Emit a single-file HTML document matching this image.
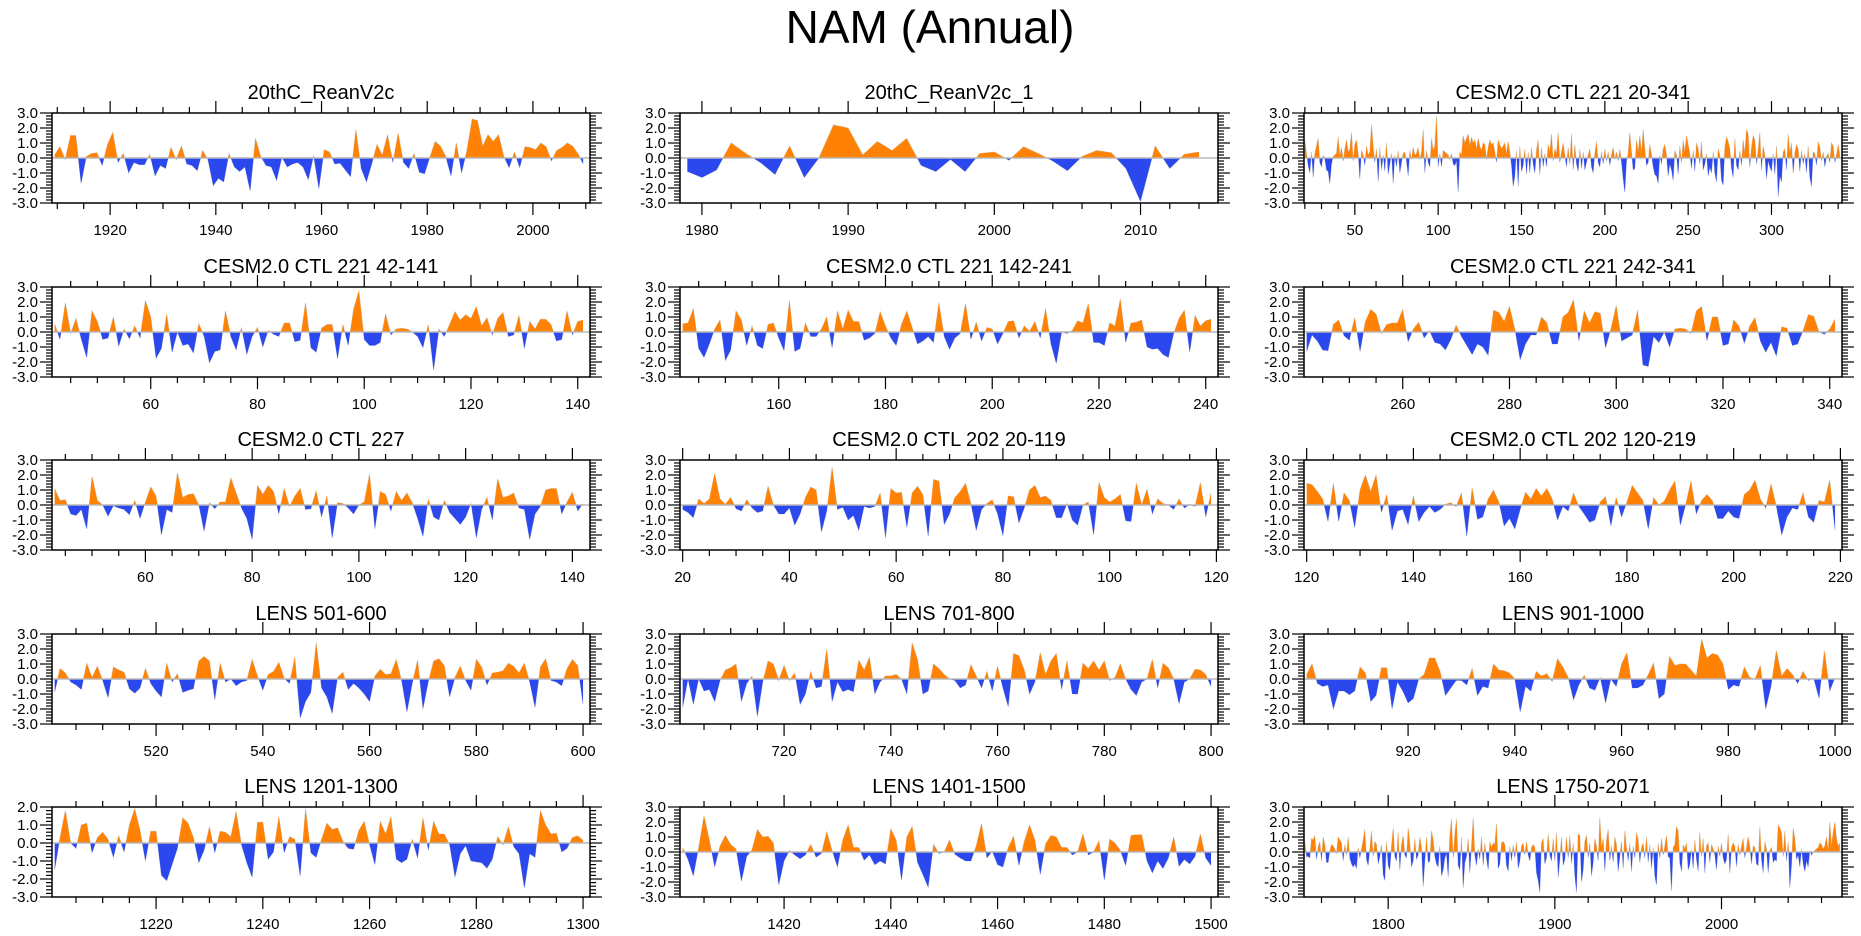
<!DOCTYPE html>
<html><head><meta charset="utf-8"><title>NAM (Annual)</title>
<style>
html,body{margin:0;padding:0;background:#fff;}
svg{display:block;font-family:"Liberation Sans",Arial,sans-serif;}
</style></head>
<body>
<svg id="chart" width="1861" height="936" viewBox="0 0 1861 936" xmlns="http://www.w3.org/2000/svg">
<rect x="0" y="0" width="1861" height="936" fill="#fff"/>
<text x="930" y="43" font-size="46" text-anchor="middle" fill="#000">NAM (Annual)</text>
</svg>
<script>
const titles = ["20thC_ReanV2c","20thC_ReanV2c_1","CESM2.0 CTL 221 20-341","CESM2.0 CTL 221 42-141","CESM2.0 CTL 221 142-241","CESM2.0 CTL 221 242-341","CESM2.0 CTL 227","CESM2.0 CTL 202 20-119","CESM2.0 CTL 202 120-219","LENS 501-600","LENS 701-800","LENS 901-1000","LENS 1201-1300","LENS 1401-1500","LENS 1750-2071"];
const firstYears = [1909.5,1979,20,42,142,242,43,20,120,501,701,901,1201,1401,1750];
const majorSteps = [20,10,50,20,20,20,20,20,20,20,20,20,20,20,100];
const minorSteps = [5,2,10,5,5,5,5,5,5,5,5,5,5,5,20];
const yMaxs = [3,3,3,3,3,3,3,3,3,3,3,3,2,3,3];
const yMins = [-3,-3,-3,-3,-3,-3,-3,-3,-3,-3,-3,-3,-3,-3,-3];

const s20c = [0.2,0.75,-0.1,1.5,1.5,-1.7,0.1,0.3,0.35,-0.5,
0.9,1.7,-0.3,0.3,-1.0,-0.3,-0.45,-0.45,0.25,-1.2,
-0.5,-0.7,0.7,-0.1,0.8,-0.4,-0.5,-0.85,0.5,-0.1,
-1.85,-1.35,-1.6,0.3,-0.6,-0.9,-0.6,-2.2,1.3,0.1,
-0.5,-0.6,-1.5,0.05,-0.6,-0.4,-0.3,-0.6,-1.45,0.15,
-2.05,0.55,0.4,-0.4,-0.35,-0.8,-1.25,1.9,-0.7,-1.6,
-0.4,0.9,0.2,1.55,-0.3,1.65,-0.3,-0.7,0.3,-0.95,
-1.05,0.05,1.1,0.8,0.1,-1.2,1.0,-1.0,0.5,2.6,
2.5,0.8,1.55,1.1,1.55,0.1,-0.65,0.4,-0.65,0.75,
0.7,0.55,1.0,0.75,-0.2,0.5,0.7,1.0,0.8,0.3,-0.4];

const s20c1 = [-0.9,-1.3,-0.8,1.0,0.3,-0.3,-1.1,0.8,-1.3,0.0,2.2,2.0,0.2,1.1,0.5,1.3,-0.5,-0.9,-0.1,-0.9,0.3,0.4,-0.15,0.75,0.3,-0.2,-0.85,0.1,0.5,0.35,-0.7,-2.9,0.8,-0.7,0.25,0.4];

const sCtl221full = [1.2,0.3,-0.5,-1.0,0.4,-1.3,0.3,0.8,1.3,-0.3,-0.6,0.2,-0.1,-0.8,-0.9,-1.7,-0.4,0.1,0.2,0.3,
1.4,0.1,0.7,-0.2,0.6,1.2,0.4,0.6,1.7,-0.2,0.9,1.2,0.3,-1.4,0.5,0.2,-0.5,0.8,0.2,0.4,
2.2,0.8,-0.3,0.6,-1.6,0.7,-0.8,0.2,-0.9,1.0,-1.1,-0.4,0.3,-1.7,0.2,-0.6,0.5,-1.0,-0.3,0.3,
0.4,-0.2,-1.2,0.5,-0.1,0.7,0.2,0.3,0.7,-0.1,0.4,1.9,-1.0,0.5,-0.3,-0.6,1.3,0.5,0.8,2.8,
-0.6,0.3,-0.6,0.5,0.4,0.3,0.2,-0.1,0.3,-0.4,-0.5,-0.2,-2.3,0.4,0.2,1.5,1.0,1.3,1.6,0.8,
1.4,1.0,1.2,0.6,1.3,0.8,0.5,1.0,0.9,-0.1,0.7,1.2,0.9,1.0,0.4,-0.3,1.2,0.9,0.6,0.8,
1.0,0.3,1.1,0.4,-0.5,-1.9,-1.2,0.5,-1.9,0.8,-0.9,-0.5,0.6,-1.1,0.4,-1.0,0.7,-0.4,-1.0,0.5,
1.2,-1.1,0.7,-0.6,0.3,-0.6,0.9,0.4,1.6,-0.2,0.6,0.3,1.7,-0.3,0.4,1.0,0.2,-0.6,0.7,-0.4,
1.6,-0.8,0.9,-0.4,-0.9,0.6,-0.7,0.4,-0.8,-0.3,0.2,0.6,-0.6,-1.0,0.3,1.1,-0.3,-0.6,0.4,-0.4,
0.6,-0.2,0.4,-0.5,0.2,0.7,-0.1,0.4,-0.2,0.6,-0.3,-1.4,-2.3,-0.2,0.3,1.7,0.4,-0.8,-0.7,1.2,
0.4,1.5,0.3,1.9,0.6,-0.5,-0.3,0.9,0.2,-0.6,-1.1,-1.2,-1.7,0.2,-0.4,0.6,0.9,0.2,-1.2,-0.4,
-0.8,-1.5,0.5,0.2,-1.1,0.8,-0.3,1.2,0.4,1.5,0.9,0.3,-0.7,0.5,-0.9,1.0,0.6,-0.4,1.1,-0.8,
-0.4,0.3,-1.2,-0.6,-1.0,0.4,-1.0,-1.6,0.6,0.2,-1.5,-1.8,0.7,1.4,1.1,0.6,-0.7,-1.3,1.3,-0.5,
-0.8,0.5,-0.5,1.2,0.3,1.9,1.6,-0.6,0.7,1.5,1.2,-0.4,0.5,1.7,-0.8,0.8,0.2,-1.4,-0.2,-0.6,
-0.9,0.3,-1.1,0.8,-2.6,-1.2,-1.6,0.4,0.6,-0.8,1.6,0.3,1.0,-1.0,0.3,0.9,0.6,-0.9,0.5,-0.4,
0.3,-1.0,0.8,-1.3,-1.9,0.4,0.3,-0.5,1.1,0.7,-0.2,0.4,-0.6,0.1,0.3,-0.3,1.0,0.8,-0.3,0.2,0.9,0.2];

const sCtl221a = [0.55,-0.5,1.95,-0.1,0.9,-0.5,-1.7,1.4,0.7,-0.5,-0.4,1.0,-0.95,0.2,-0.45,0.4,-0.4,2.1,1.0,-1.75,
-1.1,1.2,-1.35,0.0,-0.9,-0.8,-1.4,0.55,-0.3,-2.05,-1.3,-1.2,1.4,-0.3,-1.2,0.3,-1.5,-0.3,0.3,-1.0,
0.1,-0.15,-0.3,0.6,0.6,-0.65,-0.55,1.95,-1.05,-1.35,0.25,0.5,0.5,-1.8,0.5,-0.9,1.5,2.75,-0.5,-0.9,
-0.9,-0.7,1.2,-0.2,0.2,0.25,0.2,0.0,-0.3,-1.05,0.5,-2.55,0.2,-0.3,0.5,1.35,0.8,1.15,0.9,1.7,
0.4,0.95,-0.2,0.9,1.3,-0.3,-0.2,1.1,-1.1,0.7,0.2,0.85,0.85,0.5,-0.6,-0.5,1.4,-0.2,0.7,0.8];

const sCtl221b = [0.55,0.6,1.55,-1.1,-1.7,-0.8,0.2,0.8,-1.9,-1.2,1.4,0.8,-0.9,0.4,-0.9,-1.1,0.5,0.6,-0.4,-1.25,
2.1,-1.3,-1.1,0.6,-0.3,-0.3,0.2,1.0,-1.05,1.4,0.2,1.45,0.7,0.7,-0.55,-0.4,-0.1,1.35,0.4,-0.4,
-0.9,0.5,1.4,0.3,-0.8,-0.6,-0.3,-0.7,1.95,-0.3,-1.15,-0.4,-0.1,1.9,-0.5,0.65,-0.6,0.3,0.2,-0.8,
-0.1,0.7,0.75,-0.4,0.4,0.05,0.7,-0.4,1.55,-0.8,-2.1,0.0,-0.1,0.1,0.75,0.6,1.9,-0.7,-0.7,-0.9,
0.6,0.4,2.2,-0.7,0.6,0.65,0.8,-1.0,-1.15,-1.1,-1.5,-1.7,-0.1,0.9,1.45,-1.35,1.1,0.4,0.75,0.85];

const sCtl221c = [-1.3,-0.2,-0.6,-1.2,-1.25,0.5,0.8,-0.25,-0.55,0.95,-1.3,0.7,1.5,1.2,-0.1,0.5,0.6,0.6,1.5,-0.65,
0.2,0.65,-0.4,0.1,-0.7,-0.8,-1.2,-0.5,0.45,-0.3,-0.9,-1.5,-0.8,-1.0,-1.55,1.45,1.3,0.7,1.7,0.2,
-1.85,-0.8,-0.2,-0.2,1.0,0.6,-0.8,-0.8,1.0,1.3,2.15,-0.6,1.4,0.6,1.35,1.25,-1.05,0.2,1.75,-0.6,
-0.4,-0.2,1.45,-2.2,-2.3,-0.3,-0.7,0.0,-1.0,0.2,0.25,0.2,-0.1,1.4,1.7,-0.6,1.0,1.0,-0.9,-0.8,
0.8,0.4,-0.75,0.4,0.95,-0.6,-1.35,-0.7,-1.6,0.35,0.25,-0.9,-0.8,0.1,1.15,1.05,0.0,-0.15,0.2,0.85];

const sCtl227 = [1.1,0.3,0.35,-0.6,-0.7,-0.3,-1.6,1.9,0.3,0.0,-0.75,-0.05,-0.2,-0.3,-0.65,0.3,-0.9,0.2,1.2,0.6,
-2.0,-0.3,-0.5,2.15,0.5,0.7,0.75,0.0,-1.75,0.15,-0.25,0.2,0.2,1.8,0.8,-0.2,-0.9,-2.3,1.3,0.7,
1.3,0.9,-0.6,1.1,-0.1,0.6,1.1,-0.3,-0.25,0.95,-0.8,0.6,-2.2,0.15,0.1,-0.2,-0.6,0.0,0.2,2.05,
-1.6,0.9,0.7,-0.4,0.9,0.3,0.8,0.15,-0.9,-2.1,0.4,-0.8,-1.0,0.3,-0.5,-0.9,-1.3,-0.8,0.1,-2.2,
-0.3,0.5,-1.0,1.75,0.5,0.6,0.8,-0.2,-0.3,-2.3,-0.6,-0.1,1.0,1.1,1.1,-0.6,0.2,0.85,-0.4,0.1];

const sCtl202a = [-0.3,-0.5,-0.85,0.4,0.1,0.4,2.1,0.4,0.05,0.5,-0.25,-0.4,0.35,-0.2,-0.5,-0.4,1.25,0.0,-0.6,-0.6,
-0.2,-1.35,-0.6,0.5,1.2,1.0,-1.8,-0.4,2.5,-0.3,-0.15,-1.0,-0.7,-1.7,-0.1,-0.2,-0.1,0.8,-2.2,1.1,
0.8,0.85,-1.5,0.8,1.25,0.7,-2.1,1.7,1.6,-1.3,-0.6,0.5,0.9,1.45,0.1,-1.7,-0.3,0.1,0.35,-0.6,
-2.05,0.6,0.55,-1.2,-0.2,1.0,1.3,0.5,0.6,0.3,-0.85,-0.85,0.1,-1.0,-1.35,0.0,0.2,-2.0,1.5,0.5,
0.2,0.4,0.7,-1.05,-1.1,1.45,0.0,1.05,-0.6,0.4,0.1,0.0,-0.3,0.4,-0.2,0.05,-0.1,1.5,-0.8,0.8];

const sCtl202b = [1.45,1.35,0.9,0.4,-1.1,1.45,-1.1,0.8,0.3,-1.5,1.0,2.0,0.9,2.0,-0.5,0.7,-1.7,-0.4,-0.3,-1.3,
0.6,-1.1,-0.5,-0.1,-0.5,-0.3,0.05,0.15,-0.1,0.8,-2.1,1.15,-0.95,-0.8,0.4,1.0,0.2,-1.4,-0.9,-1.6,
-0.3,0.85,0.4,1.1,0.6,1.1,0.4,-1.0,-0.1,-0.4,0.8,-0.1,-0.6,-1.15,-1.0,0.2,0.55,-1.4,0.5,-0.8,
0.2,1.3,0.8,0.3,-1.6,0.5,0.0,0.25,1.0,1.6,-1.35,0.0,1.6,-0.6,0.3,0.7,0.3,-0.9,-0.9,-0.4,
-0.8,-0.9,0.7,1.0,1.65,0.4,-0.2,1.4,-0.1,-2.0,-0.8,-0.2,-0.3,0.8,-0.8,-1.15,0.3,0.2,1.65,-1.7];

const sLens501 = [-0.9,0.7,0.4,-0.2,-0.4,-0.7,1.05,0.1,0.85,-0.1,-1.25,0.8,0.6,0.45,-0.65,-0.95,-0.6,0.7,-0.3,-0.8,
-1.2,1.05,-0.2,0.35,-0.9,-0.75,-0.65,1.2,1.5,1.2,-1.4,1.05,-0.2,0.0,-0.45,-0.2,-0.1,1.3,0.2,-0.75,
0.3,0.5,1.1,0.05,-0.3,1.45,-2.6,-1.5,-0.9,2.4,-0.6,-1.2,-2.3,0.1,0.45,-0.7,-0.3,-0.6,-1.0,-1.5,
0.2,0.65,0.3,0.35,1.3,-0.1,-2.2,-0.3,1.25,-2.0,-0.2,1.2,1.35,0.9,-1.2,0.1,0.85,-0.1,-0.75,1.3,
0.8,-0.4,0.4,0.45,0.55,1.05,0.85,0.4,1.05,-0.2,-1.9,0.8,1.35,-0.1,-0.2,-0.45,0.7,1.3,0.9,-1.7];

const sLens701 = [-1.9,0.0,-1.7,0.0,-0.8,-0.7,-1.5,-0.1,0.6,0.75,1.0,-1.5,-0.3,0.2,-2.5,-0.2,1.2,1.0,-0.1,0.9,
-0.1,0.4,-1.7,-1.0,0.5,-0.6,-0.5,2.0,-1.5,-0.2,-0.85,-0.7,-0.85,1.25,0.6,1.45,-1.0,-0.2,0.2,0.2,
0.3,0.0,-1.0,2.4,1.3,-1.0,-0.8,1.0,0.7,0.3,0.0,-0.1,-0.6,-0.4,0.95,0.2,-0.6,0.5,-0.8,0.85,
-0.6,-1.85,1.7,1.55,0.6,-1.0,-0.2,1.75,0.3,1.2,1.7,-0.7,1.2,-1.0,-1.0,1.05,0.7,1.2,0.6,1.2,
-0.1,0.1,1.0,0.0,-0.7,-1.1,-0.2,0.0,1.3,-0.6,1.05,0.75,0.0,-1.65,-0.2,0.0,0.65,0.6,0.3,-0.5];

const sLens901 = [0.3,1.0,-0.3,-0.5,-0.4,-2.0,-0.8,-0.8,-1.05,-0.8,0.8,0.4,-1.5,-1.1,0.75,0.75,-2.0,-0.2,-0.8,-1.6,
-1.3,0.0,0.3,1.4,1.4,0.5,-1.1,-0.6,-0.1,-0.1,-0.4,0.7,-1.1,-0.5,-0.6,1.0,0.6,0.55,0.4,0.0,
-2.2,-0.5,-0.8,0.5,0.2,0.35,-0.15,1.35,0.8,0.1,-1.4,-0.4,0.25,-0.6,-0.75,0.1,-1.6,0.0,-0.5,1.0,
1.75,-0.6,-0.6,-0.4,0.3,1.05,-1.3,-1.0,1.5,0.9,1.0,1.0,0.6,0.2,2.65,1.4,1.7,1.6,1.0,-0.7,
-0.4,-0.5,0.8,0.1,0.0,0.9,-2.0,-0.5,1.9,0.2,0.7,0.3,-0.3,0.5,-0.1,0.05,-1.3,1.9,-0.8,0.1];

const sLens1201 = [-1.5,0.3,1.8,0.0,-0.3,1.0,1.1,-0.55,0.3,0.6,0.2,-0.8,0.4,-0.5,1.0,1.9,0.7,-1.0,0.65,0.65,
-1.8,-2.1,-1.2,-0.3,1.4,1.1,0.3,-1.1,-0.4,0.9,-0.55,0.65,0.6,0.35,1.75,-0.1,-1.1,-1.9,1.15,1.15,
-0.9,-0.5,1.45,-0.55,0.35,0.2,-1.85,1.9,-0.55,-0.8,0.2,1.1,0.75,0.85,0.1,-0.3,-0.35,0.7,1.2,-0.1,
-1.2,1.2,0.5,1.45,-0.9,-1.1,-0.9,0.2,-0.85,1.4,-0.4,1.2,0.5,0.5,-0.1,-1.9,-0.6,-0.15,-1.0,-1.05,
-1.1,-1.4,-0.9,0.35,-0.1,0.9,-0.2,-0.6,-2.5,-0.6,-0.8,1.8,1.0,0.5,0.55,-0.5,-0.3,0.3,0.4,0.15];

const sLens1401 = [0.3,-0.5,-1.6,0.3,2.4,0.8,-1.0,0.4,1.1,0.5,0.2,-1.95,-0.3,0.15,1.5,1.0,1.05,0.6,-2.2,-0.6,
0.1,-0.2,-0.45,-0.2,0.5,-0.35,-0.1,1.35,0.1,-1.0,0.8,1.8,0.3,0.3,-0.55,-0.2,-0.85,-0.6,-0.8,1.55,
0.8,-1.9,1.0,1.7,-0.7,-1.5,-2.35,0.5,-0.1,0.0,0.8,-0.15,-0.4,-0.6,-0.6,0.4,1.9,-0.4,0.05,-0.85,
-1.0,0.3,1.05,-0.9,0.7,1.8,0.8,-1.5,0.55,1.1,1.0,0.3,0.3,-0.2,0.0,1.2,-0.2,0.0,0.75,-1.9,
0.85,0.6,0.1,-0.9,1.1,1.15,1.15,-0.6,-1.4,-0.6,-1.1,-0.4,1.0,-0.95,-0.5,-0.8,-0.3,1.2,-0.4,-0.9];

const sLens1750 = [0.7,-0.3,-0.3,-0.4,0.9,0.8,1.1,-0.5,0.3,0.7,
-0.6,1.0,0.5,-0.7,-0.7,0.1,0.5,0.4,0.2,-0.1,
1.0,0.8,0.6,-0.6,0.5,-0.2,1.0,-0.4,-0.8,-1.0,
-0.8,-1.1,0.3,-0.4,0.2,0.8,1.5,-0.5,-0.9,0.2,
1.4,-0.3,0.7,0.5,-0.8,-0.3,0.5,-1.5,-1.9,0.7,
-0.9,-1.2,0.4,1.6,-0.3,-0.6,1.3,-1.2,0.5,1.1,
-0.2,-0.4,1.6,0.6,-1.0,-0.6,0.9,-0.5,-0.2,1.0,
0.3,-2.3,-0.6,1.0,-0.7,-0.6,1.4,0.8,-0.3,-0.8,
-1.0,0.4,-1.6,-1.2,-0.4,-0.1,-1.7,1.1,2.2,-0.4,
1.2,2.2,-0.9,-1.2,1.0,-2.4,-0.7,-0.3,0.9,-1.4,
0.4,2.3,-0.2,-0.9,0.2,-0.5,1.0,-0.9,0.6,-0.4,
-1.2,0.7,0.3,0.6,0.5,1.9,-1.1,-0.8,0.6,0.7,
0.5,-0.9,-1.3,0.4,-0.6,0.5,-0.4,0.7,-1.1,-0.6,
0.4,0.6,-0.2,0.7,-0.2,-0.6,0.3,0.5,0.3,-1.4,
-1.9,-2.7,0.6,0.9,-0.8,-0.4,1.2,-0.2,-0.6,0.9,
-0.6,1.3,-1.7,-0.5,1.0,-0.9,-0.5,1.0,-0.4,1.1,
-0.8,0.6,-1.6,-2.7,1.2,1.1,-2.0,-1.2,0.7,1.1,
-0.4,0.6,-1.6,-0.7,0.9,0.4,-0.6,2.3,0.3,0.9,
-1.3,0.8,1.5,-0.6,0.4,-0.7,1.0,0.5,-1.3,-0.3,
0.7,-1.1,1.4,0.3,-0.6,0.6,-1.3,0.4,-0.4,1.3,
0.8,-0.7,0.3,0.6,-0.4,1.0,-0.7,0.5,-1.1,0.3,
-1.6,-2.2,0.6,-0.4,0.9,-0.2,0.4,1.1,-0.3,-0.4,
-2.6,0.3,0.5,1.7,1.4,-0.7,-1.3,0.5,0.2,0.6,
-1.2,-0.8,0.2,-1.1,0.8,-0.5,-1.3,1.3,-0.3,0.9,
-1.4,0.4,0.6,-0.7,0.5,0.2,-0.2,-1.2,0.4,-0.3,
0.6,-0.4,-0.8,-0.5,1.2,-1.4,0.3,0.6,0.4,-1.0,
0.5,-0.2,0.4,0.9,-0.4,0.3,1.0,0.4,-0.8,0.4,
0.3,-0.8,-0.9,1.7,-0.5,-1.4,0.7,0.2,-1.4,0.1,
0.3,-0.7,-0.5,-0.6,1.8,1.6,1.3,-0.3,1.4,-0.6,
0.7,-2.4,-0.9,1.6,0.9,-0.5,-0.2,-1.0,0.2,-0.8,
-1.3,-0.6,-1.0,0.1,-0.2,0.0,0.1,0.2,0.3,0.6,
0.5,0.2,0.4,1.0,0.0,2.0,0.4,1.3,2.0,0.9,
0.4,0.6];

const series = [s20c,s20c1,sCtl221full,sCtl221a,sCtl221b,sCtl221c,sCtl227,sCtl202a,sCtl202b,sLens501,sLens701,sLens901,sLens1201,sLens1401,sLens1750];

const NS = "http://www.w3.org/2000/svg";
const svg = document.getElementById("chart");
const colLeft = [52,680,1304], rowTop = [113,287,460,634,807];
const PW = 538, PH = 90;
const ORANGE = "#ff8205", BLUE = "#2a48ee";

function mk(tag, attrs, parent){
  const e = document.createElementNS(NS, tag);
  for (const k in attrs) e.setAttribute(k, attrs[k]);
  parent.appendChild(e);
  return e;
}
function slug(s){ return s.toLowerCase().replace(/[^a-z0-9]+/g,'-').replace(/^-|-$/g,''); }

const defs = mk("defs", {}, svg);

series.forEach((vals, i) => {
  const L = colLeft[i % 3], T = rowTop[Math.floor(i / 3)];
  const x0 = firstYears[i];
  const xmin = x0 - 0.5, xmax = x0 + vals.length - 1 + 1.3;
  const ymin = yMins[i], ymax = yMaxs[i];
  const sx = v => L + (v - xmin) / (xmax - xmin) * PW;
  const sy = v => T + (ymax - v) / (ymax - ymin) * PH;
  const zy = sy(0);

  const g = mk("g", {}, svg);
  
  

  const cpA = mk("clipPath", {id: "ca" + i}, defs);
  mk("rect", {x: L, y: T, width: PW, height: zy - T}, cpA);
  const cpB = mk("clipPath", {id: "cb" + i}, defs);
  mk("rect", {x: L, y: zy, width: PW, height: T + PH - zy}, cpB);

  let pts = vals.map((v, k) => sx(x0 + k).toFixed(2) + "," + sy(v).toFixed(2));
  const area = "M" + sx(x0).toFixed(2) + "," + zy.toFixed(2) + " L" + pts.join(" L") + " L" + sx(x0 + vals.length - 1).toFixed(2) + "," + zy.toFixed(2) + " Z";

  const line = mk("polyline", {points: pts.join(" "), fill: "none", stroke: "#d0d0d0", "stroke-width": 0.8}, g);
  
  
  const pos = mk("path", {d: area, fill: ORANGE, "clip-path": "url(#ca" + i + ")"}, g);
  
  
  const neg = mk("path", {d: area, fill: BLUE, "clip-path": "url(#cb" + i + ")"}, g);
  
  
  const zl = mk("line", {x1: L, x2: L + PW, y1: zy, y2: zy, stroke: "#b8b8b8", "stroke-width": 1.5}, g);
  
  

  const fr = mk("rect", {x: L, y: T, width: PW, height: PH, fill: "none", stroke: "#000", "stroke-width": 1.5}, g);
  
  

  const tg = mk("g", {stroke: "#000", "stroke-width": 1.2}, g);
  
  
  const mn = minorSteps[i], mj = majorSteps[i];
  for (let v = Math.ceil(xmin / mn) * mn; v <= xmax; v += mn) {
    const isMaj = Math.abs(v / mj - Math.round(v / mj)) < 1e-6;
    const len = isMaj ? 12 : 6;
    const x = sx(v);
    mk("line", {x1: x, x2: x, y1: T, y2: T - len}, tg);
    mk("line", {x1: x, x2: x, y1: T + PH, y2: T + PH + len}, tg);
    if (isMaj) {
      const t = mk("text", {x: x, y: T + PH + 32, "font-size": 15, "text-anchor": "middle", fill: "#000", stroke: "none"}, g);
      
      
      t.textContent = String(Math.round(v));
    }
  }
  for (let k = Math.round(ymin * 5); k <= Math.round(ymax * 5); k++) {
    const v = k / 5, y = sy(v);
    const isMaj = k % 5 === 0;
    const len = isMaj ? 12 : 6;
    mk("line", {x1: L - len, x2: L, y1: y, y2: y}, tg);
    mk("line", {x1: L + PW, x2: L + PW + len, y1: y, y2: y}, tg);
    if (isMaj) {
      const t = mk("text", {x: L - 14, y: y + 5, "font-size": 15, "text-anchor": "end", fill: "#000", stroke: "none"}, g);
      
      
      t.textContent = v.toFixed(1);
    }
  }
  const tt = mk("text", {x: L + PW / 2, y: T - 14, "font-size": 20, "text-anchor": "middle", fill: "#000"}, g);
  
  
  tt.textContent = titles[i];
});
</script>
</body></html>
